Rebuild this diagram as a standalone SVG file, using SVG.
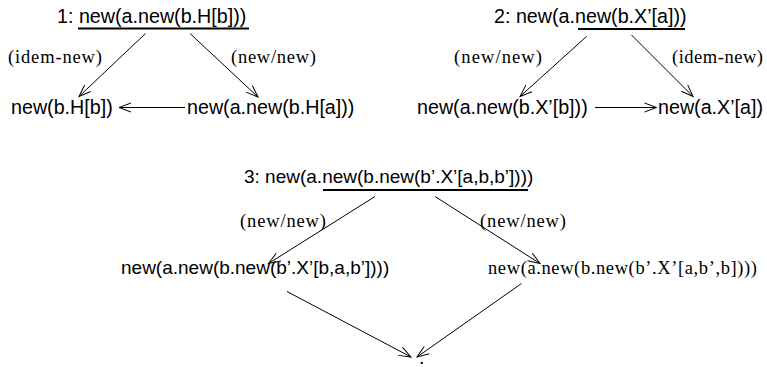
<svg xmlns="http://www.w3.org/2000/svg" width="767" height="367" viewBox="0 0 767 367">
  <defs>
    <style>
      .t { font-family: "Liberation Sans", Arial, sans-serif; font-size: 19.7px; fill: #000; }
      .t3 { font-size: 19px; }
      .s { font-family: "Liberation Serif", "Times New Roman", serif; font-size: 18.5px; fill: #000; }
      .ul { stroke: #000; stroke-width: 2; }
      .e { stroke: #000; stroke-width: 1; fill: none; marker-end: url(#head); }
    </style>
    <marker id="head" markerUnits="userSpaceOnUse" markerWidth="16" markerHeight="12" viewBox="-14 -6 16 12" refX="0" refY="0" orient="auto">
      <path d="M -12 -4.5 L 0 0 L -12 4.5" fill="none" stroke="#000" stroke-width="1"/>
    </marker>
  </defs>
  <rect width="767" height="367" fill="#fff"/>

  <!-- connectors -->
  <g id="edges">
    <line class="e" x1="145.5" y1="33.5" x2="79" y2="96.5"/>
    <line class="e" x1="190" y1="33.5" x2="258" y2="97"/>
    <line class="e" x1="185" y1="107.5" x2="119" y2="107.5"/>
    <line class="e" x1="586.5" y1="36.5" x2="520" y2="96.5"/>
    <line class="e" x1="631.5" y1="35" x2="693" y2="96.5"/>
    <line class="e" x1="595" y1="107.5" x2="656.5" y2="107.5"/>
    <line class="e" x1="375" y1="196.5" x2="268.5" y2="263.5"/>
    <line class="e" x1="435" y1="196.5" x2="540" y2="263.5"/>
    <line class="e" x1="287" y1="291.5" x2="411" y2="357"/>
    <line class="e" x1="521.5" y1="283.5" x2="417" y2="357"/>
  </g>

  <!-- edge labels -->
  <g id="labels">
    <text class="s" x="8" y="63" textLength="94">(idem-new)</text>
    <text class="s" x="231" y="63" textLength="85">(new/new)</text>
    <text class="s" x="454" y="63" textLength="88">(new/new)</text>
    <text class="s" x="672" y="63" textLength="91">(idem-new)</text>
    <text class="s" x="240" y="226.5" textLength="86">(new/new)</text>
    <text class="s" x="480" y="226.5" textLength="86">(new/new)</text>
  </g>

  <!-- diagram 1 -->
  <g id="n1-top">
    <text class="t" x="57" y="22.5">1: new(a.new(b.H[b]))</text>
    <line class="ul" x1="78" y1="28.5" x2="249" y2="28.5"/>
  </g>
  <g id="n1-left"><text class="t" x="11" y="113.5">new(b.H[b])</text></g>
  <g id="n1-right"><text class="t" x="187" y="113.5">new(a.new(b.H[a]))</text></g>

  <!-- diagram 2 -->
  <g id="n2-top">
    <text class="t" x="494" y="22.5">2: new(a.new(b.X’[a]))</text>
    <line class="ul" x1="578" y1="29" x2="685" y2="29"/>
  </g>
  <g id="n2-left"><text class="t" x="417" y="113.5">new(a.new(b.X’[b]))</text></g>
  <g id="n2-right"><text class="t" x="658" y="113.5">new(a.X’[a])</text></g>

  <!-- diagram 3 -->
  <g id="n3-top">
    <text class="t t3" x="244" y="183">3: new(a.new(b.new(b’.X’[a,b,b’])))</text>
    <line class="ul" x1="323" y1="190" x2="528" y2="190"/>
  </g>
  <g id="n3-left"><text class="t t3" x="121" y="274">new(a.new(b.new(b’.X’[b,a,b’])))</text></g>
  <g id="n3-right"><text class="s" x="488" y="273.5" textLength="269">new(a.new(b.new(b’.X’[a,b’,b])))</text></g>
  <g id="n3-bottom"><text class="t" x="419" y="364">.</text></g>
</svg>
